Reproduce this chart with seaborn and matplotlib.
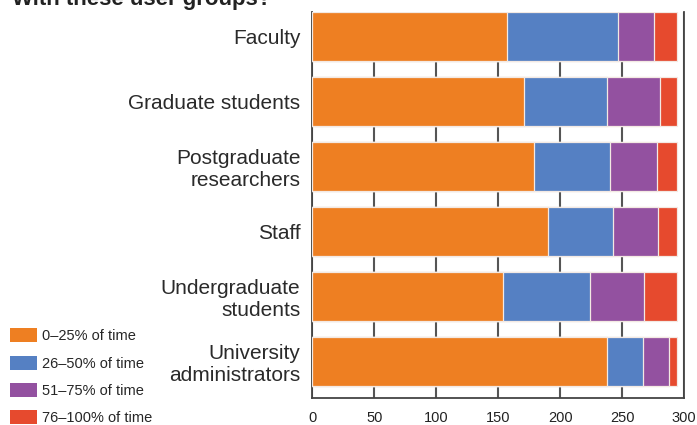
import matplotlib
matplotlib.use("Agg")
import matplotlib.pyplot as plt
import seaborn as sns
import pandas as pd
import numpy as np
from matplotlib.patches import Patch

categories = ["Faculty", "Graduate students", "Postgraduate\nresearchers", "Staff",
              "Undergraduate\nstudents", "University\nadministrators"]
series_names = ["0\u201325% of time", "26\u201350% of time", "51\u201375% of time", "76\u2013100% of time"]
v_0_25 = [157, 171, 179, 190, 154, 238]
v_26_50 = [90, 67, 61, 53, 70, 29]
v_51_75 = [29, 43, 38, 36, 44, 21]
v_76_100 = [18, 13, 16, 15, 26, 6]
colors = ["#EE7F22", "#5580C3", "#9351A0", "#E64A2E"]
x_ticks = [0, 50, 100, 150, 200, 250, 300]

sns.set_style("white")
plt.rcParams['font.family'] = ['Liberation Sans', 'DejaVu Sans']

fig = plt.figure(figsize=(6.97, 4.25), dpi=100)
ax = fig.add_axes([312.3/697, 1-398/425, (684-312.3)/697, (398-12)/425])

series = [v_0_25, v_26_50, v_51_75, v_76_100]
cum = np.cumsum(np.array(series), axis=0)
df = pd.DataFrame({"category": categories})
for i in range(3, -1, -1):
    df["val"] = cum[i]
    sns.barplot(data=df, x="val", y="category", orient="h", color=colors[i],
                width=0.754, edgecolor="#F3E9E3", linewidth=0.9, ax=ax, zorder=3,
                saturation=1)

ax.set_xlim(0, 300)
ax.set_ylim(5.565, -0.377)
ax.set_xticks(x_ticks)
ax.set_xlabel("")
ax.set_ylabel("")
ax.grid(axis="x", color="#555555", linewidth=1.5, zorder=0)
ax.set_axisbelow(True)
ax.spines["top"].set_visible(False)
for s in ["left", "right", "bottom"]:
    ax.spines[s].set_color("#444444")
    ax.spines[s].set_linewidth(1.3)
ax.tick_params(axis="y", length=6.5, width=1.3, color="#444444", pad=2,
               labelsize=15, labelcolor="#2a2a2a")
ax.tick_params(axis="x", length=5, width=1.3, color="#555555", pad=4,
               labelsize=10.5, labelcolor="#222222")

handles = [Patch(facecolor=c, edgecolor="none") for c in colors]
fig.legend(handles, series_names, loc="lower left", bbox_to_anchor=(0.0, -0.025),
           frameon=False, fontsize=10.5, handlelength=1.85, handleheight=1.1,
           labelspacing=0.85, handletextpad=0.35, borderaxespad=0.3)

fig.text(12/697, 1-5/425, "With these user groups?", fontsize=16, fontweight="bold",
         ha="left", va="baseline", color="#222222")

fig.savefig("out.png", dpi=100)
